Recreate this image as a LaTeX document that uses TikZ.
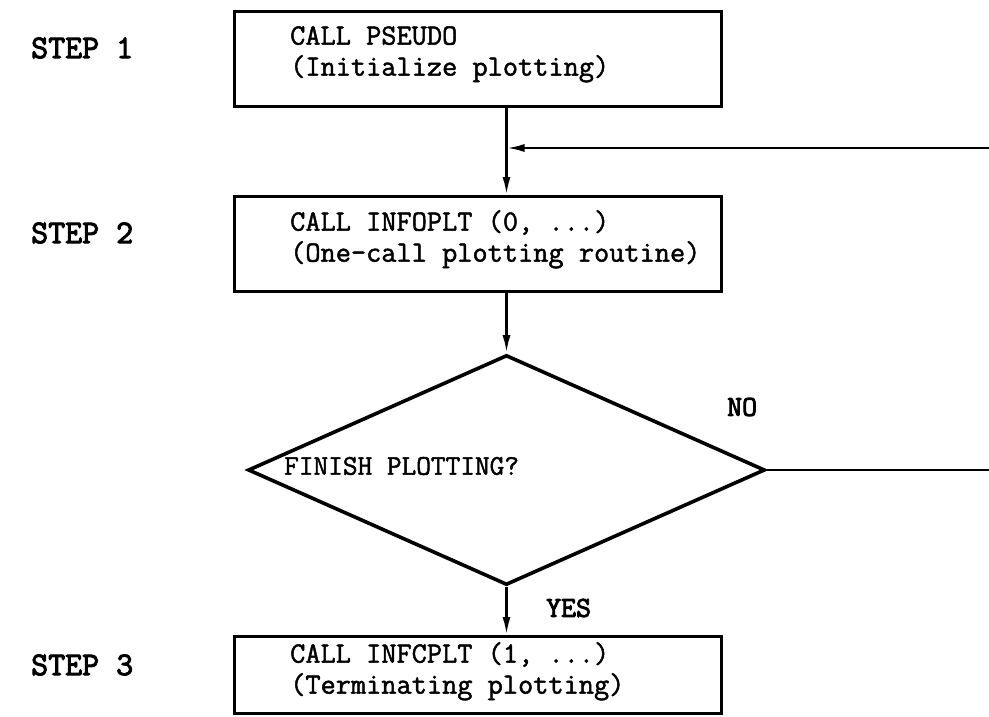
\documentclass[tikz,border=0pt]{standalone}
\usepackage{fontspec}
\newfontfamily\twfont{Latin Modern Mono}[FakeBold=1.6]
\newfontfamily\twboldfont{Latin Modern Mono}[FakeBold=3]
\usetikzlibrary{arrows.meta,shapes.geometric}
\begin{document}
\begin{tikzpicture}[x=1pt,y=-1pt,
  boxshape/.style={draw, line width=3.2pt, inner sep=0pt, anchor=north west},
  boxtext/.style={anchor=north west, inner sep=0pt, align=left, font=\twfont\fontsize{29.5}{31}\selectfont},
  steplabel/.style={anchor=west, inner sep=0pt, font=\twboldfont\fontsize{33}{36}\selectfont},
  lbl/.style={anchor=west, inner sep=0pt, font=\twboldfont\fontsize{29}{30}\selectfont},
  conn/.style={line width=2.6pt},
  arr/.style={line width=2.6pt, -{Latex[length=18pt,width=8pt]}}]
\useasboundingbox (0,0) rectangle (989,717);
% boxes
\node[boxshape, minimum width=487pt, minimum height=95pt] (b1) at (233,10) {};
\node[boxshape, minimum width=487pt, minimum height=95pt] (b2) at (233,195) {};
\node[boxshape, minimum width=487pt, minimum height=77pt] (b3) at (233,635) {};
\node[draw, diamond, line width=3.6pt, inner sep=0pt, minimum width=517pt, minimum height=230pt] (d) at (506.5,470) {};
% box texts
\node[boxtext] (t1) at (290,26) {CALL PSEUDO\\(Initialize plotting)};
\node[boxtext] (t2) at (290,210) {CALL INFOPLT (0, ...)\\(One-call plotting routine)};
\node[boxtext] (t3) at (290,642) {CALL INFCPLT (1, ...)\\(Terminating plotting)};
\node[anchor=west, inner sep=0pt, font=\twfont\fontsize{28.5}{30}\selectfont] (t4) at (284,466) {FINISH PLOTTING?};
% step labels
\node[steplabel] (s1) at (31,48) {STEP 1};
\node[steplabel] (s2) at (31,233) {STEP 2};
\node[steplabel] (s3) at (31,665) {STEP 3};
% branch labels
\node[lbl] (no) at (727,407) {NO};
\node[lbl] (yes) at (546,608) {YES};
% connectors
\coordinate (fbR) at (995,148);
\coordinate (noR) at (995,470);
\draw[arr] (b1.south -| d.north) -- (b2.north -| d.north);
\draw[arr] (fbR) -- (fbR -| d.north);
\draw[arr] (b2.south -| d.north) -- (d.north);
\draw[conn] (d.east) -- (noR);
\draw[arr] (d.south) -- (b3.north -| d.south);
\end{tikzpicture}
\end{document}
